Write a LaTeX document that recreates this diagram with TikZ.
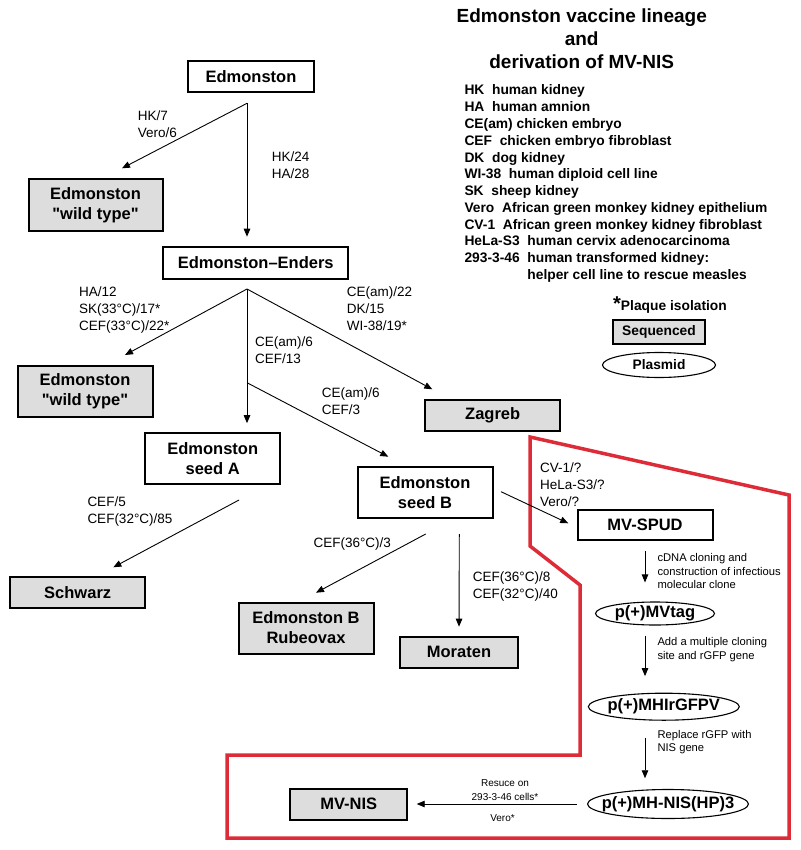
\documentclass[tikz,border=0pt]{standalone}
\usepackage{fontspec}
\setmainfont{Liberation Sans}
\usepackage{tikz}
\usetikzlibrary{shapes.geometric, arrows.meta, positioning, calc}
\definecolor{seqfill}{RGB}{221,221,221}
\definecolor{boxred}{RGB}{221,43,55}
\newcommand{\tightlabel}[1]{\makebox[0pt]{#1}}
\tikzset{
    stage/.style={
        rectangle,
        draw=black,
        line width=2pt,
        fill=white,
        align=center,
        inner sep=0pt,
        font=\fontsize{16.5}{20}\selectfont\bfseries
    },
    seqstage/.style={
        stage,
        fill=seqfill
    },
    plasmid/.style={
        ellipse,
        draw=black,
        line width=1.1pt,
        fill=white,
        inner sep=0pt,
        font=\fontsize{16.5}{20}\selectfont\bfseries
    },
    passage/.style={
        draw=black,
        line width=0.9pt,
        -{Triangle[length=8pt,width=6.5pt]}
    },
    cond/.style={
        inner sep=0pt,
        anchor=north west,
        align=left,
        font=\fontsize{13.5}{16.7}\selectfont
    },
    method/.style={
        cond,
        font=\fontsize{11.2}{13.3}\selectfont
    },
    rescue/.style={
        inner sep=0pt,
        anchor=north,
        align=center,
        font=\fontsize{10}{13.8}\selectfont
    },
    keytext/.style={
        inner sep=0pt,
        align=left,
        font=\fontsize{13.8}{16.75}\selectfont\bfseries
    },
    region/.style={
        draw=boxred,
        line width=3.5pt,
        line join=miter
    }
}

\begin{document}
\begin{tikzpicture}[x=1pt, y=-1pt]
\useasboundingbox (0,0) rectangle (800,850);
% MV-NIS derivation region
\draw[region] (530,437) -- (789,495) -- (789,838) -- (227,838) -- (227,755) -- (580,755) -- (580,585) -- (530,546) -- cycle;

% Title and key
\node[inner sep=0pt, anchor=north, align=center, font=\fontsize{19}{23}\selectfont\bfseries] (title) at (581.7,8.6) {Edmonston vaccine lineage\\and\\derivation of MV-NIS};
\node[keytext, anchor=north west] (abbrev) at (464.3,84.8) {HK~~human kidney\\HA~~human amnion\\CE(am) chicken embryo\\CEF~~chicken embryo fibroblast\\DK~~dog kidney\\WI-38~~human diploid cell line\\SK~~sheep kidney\\Vero~~African green monkey kidney epithelium\\CV-1~~African green monkey kidney fibroblast\\HeLa-S3~~human cervix adenocarcinoma\\293-3-46~~human transformed kidney:\\\phantom{293-3-46~~}helper cell line to rescue measles};
\node[keytext, anchor=base west] (plaque) at (613,310) {{\fontsize{20}{20}\selectfont *}Plaque isolation};
\node[seqstage, line width=1.4pt, minimum width=92pt, minimum height=24pt, font=\fontsize{13.8}{16}\selectfont\bfseries] (seqkey) at (659,332) {Sequenced};
\node[plasmid, minimum width=113pt, minimum height=25pt, font=\fontsize{13.8}{16}\selectfont\bfseries] (plaskey) at (659,365) {\tightlabel{Plasmid}};

% Lineage
\node[stage, minimum width=126pt, minimum height=31pt] (edm) at (251,76.3) {Edmonston};
\node[seqstage, minimum width=134pt, minimum height=51pt] (wt1) at (95.5,205) {Edmonston\\\textquotedbl wild type\textquotedbl};
\node[stage, minimum width=185pt, minimum height=32pt] (enders) at (255.7,262.5) {Edmonston--Enders};
\node[seqstage, minimum width=135pt, minimum height=51pt] (wt2) at (85,391) {Edmonston\\\textquotedbl wild type\textquotedbl};
\node[stage, minimum width=135pt, minimum height=51pt] (seedA) at (212.7,458.7) {Edmonston\\seed A};
\node[seqstage, minimum width=135pt, minimum height=31pt] (zagreb) at (492.7,415) {Zagreb};
\node[stage, minimum width=135pt, minimum height=51pt] (seedB) at (425,492.7) {Edmonston\\seed B};
\node[seqstage, minimum width=135pt, minimum height=31pt] (schwarz) at (77.7,592.5) {Schwarz};
\node[seqstage, minimum width=135pt, minimum height=51pt] (rubeo) at (306,628) {Edmonston B\\Rubeovax};
\node[seqstage, minimum width=118pt, minimum height=31pt] (moraten) at (459,652) {Moraten};

% Derivation of MV-NIS
\node[stage, minimum width=135pt, minimum height=30pt] (spud) at (645,524.5) {MV-SPUD};
\node[plasmid, minimum width=119pt, minimum height=23pt] (mvtag) at (655,613.5) {\tightlabel{p(+)MVtag}};
\node[plasmid, minimum width=151pt, minimum height=27pt] (gfpv) at (663.8,706.7) {\tightlabel{p(+)MHIrGFPV}};
\node[plasmid, minimum width=161pt, minimum height=29pt] (hp3) at (668,804) {\tightlabel{p(+)MH-NIS(HP)3}};
\node[seqstage, minimum width=117pt, minimum height=31pt] (mvnis) at (348.7,804) {MV-NIS};

% Passages
\coordinate (f1) at ($(edm.south)+(-4,10.5)$);
\coordinate (f2) at ($(f1 |- enders.south)+(0,9.5)$);
\coordinate (f3) at ($(f2)+(0,93.7)$);
\draw[passage] (f1) -- ($(wt1.north)+(26.5,-10.2)$);
\draw[passage, shorten >=8.8pt] (f1) -- (f1 |- enders.north);
\draw[passage] (f2) -- ($(wt2.north)+(40,-9.5)$);
\draw[passage, shorten >=9pt] (f2) -- (f2 |- seedA.north);
\draw[passage] (f3) -- ($(seedB.north)+(-36.7,-9.5)$);
\draw[passage] (f2) -- ($(zagreb.north)+(-60.4,-9.2)$);
\draw[passage] ($(seedA.south)+(26.3,14.8)$) -- ($(schwarz.north)+(35.6,-8.7)$);
\draw[passage] ($(seedB.south)+(0.7,14.8)$) -- ($(rubeo.north)+(10,-8.8)$);
\draw[passage, shorten >=8.8pt] ($(seedB.south)+(34.3,14.8)$) -- (moraten.north);
\draw[passage] ($(seedB.east)+(7.5,-1)$) -- ($(spud.west)+(-8.2,-1.2)$);
\draw[passage, shorten >=19pt] ($(spud.south)+(0,10.5)$) -- (spud.south |- mvtag.north);
\draw[passage, shorten >=16.5pt] ($(spud.south |- mvtag.south)+(0,10)$) -- (spud.south |- gfpv.north);
\draw[passage, shorten >=10.7pt] ($(spud.south |- gfpv.south)+(0,17)$) -- (spud.south |- hp3.north);
\draw[passage, shorten <=9.8pt, shorten >=8.5pt] (hp3.west) -- (mvnis.east);

% Passage conditions
\node[cond] (c1) at (137.7,111) {HK/7\\Vero/6};
\node[cond] (c2) at (271.7,152) {HK/24\\HA/28};
\node[cond] (c3) at (79,286.7) {HA/12\\SK(33°C)/17*\\CEF(33°C)/22*};
\node[cond] (c4) at (346.7,286.7) {CE(am)/22\\DK/15\\WI-38/19*};
\node[cond] (c5) at (255,336.7) {CE(am)/6\\CEF/13};
\node[cond] (c6) at (321.7,387.7) {CE(am)/6\\CEF/3};
\node[cond] (c7) at (87.3,496.7) {CEF/5\\CEF(32°C)/85};
\node[cond] (c8) at (313.3,537.7) {CEF(36°C)/3};
\node[cond] (c9) at (472.7,571.7) {CEF(36°C)/8\\CEF(32°C)/40};
\node[cond] (c10) at (540,462.7) {CV-1/?\\HeLa-S3/?\\Vero/?};
\node[method] (m1) at (657.3,553.5) {cDNA cloning and\\construction of infectious\\molecular clone};
\node[method] (m2) at (657.3,637.5) {Add a multiple cloning\\site and rGFP gene};
\node[method] (m3) at (657.3,730.1) {Replace rGFP with\\NIS gene};
\node[rescue] (r1) at (505,779.7) {Resuce on\\293-3-46 cells*};
\node[rescue] (r2) at (502.5,814.7) {Vero*};
\end{tikzpicture}
\end{document}
